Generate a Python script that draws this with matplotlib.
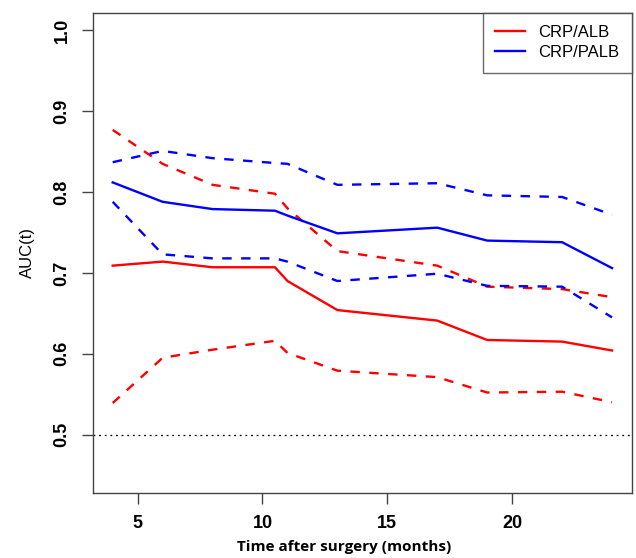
import numpy as np
import matplotlib
matplotlib.use("Agg")
import matplotlib.pyplot as plt

# time points (months) and AUC(t) with 95% CI
t = [4, 6, 8, 10.5, 11, 13, 17, 19, 22, 24]
alb = [0.709, 0.714, 0.707, 0.707, 0.690, 0.654, 0.641, 0.617, 0.615, 0.604]
alb_lo = [0.539, 0.595, 0.605, 0.616, 0.601, 0.579, 0.571, 0.552, 0.553, 0.540]
alb_hi = [0.877, 0.835, 0.809, 0.798, 0.780, 0.727, 0.709, 0.683, 0.680, 0.670]
palb = [0.812, 0.788, 0.779, 0.777, 0.771, 0.749, 0.756, 0.740, 0.738, 0.706]
palb_lo = [0.788, 0.723, 0.718, 0.718, 0.714, 0.690, 0.699, 0.684, 0.683, 0.645]
palb_hi = [0.837, 0.851, 0.842, 0.836, 0.835, 0.809, 0.811, 0.796, 0.794, 0.772]

plt.rcParams['font.family'] = ['Liberation Sans', 'DejaVu Sans']

fig = plt.figure(figsize=(6.36, 5.58), dpi=100)
ax = fig.add_axes([0.1458, 0.1170, 0.8479, 0.8602])

red = '#ff0000'
blue = '#0000ff'
lw = 1.7
ax.plot(t, alb, color=red, lw=lw, label='CRP/ALB')
ax.plot(t, alb_lo, color=red, lw=lw, dashes=(4, 4))
ax.plot(t, alb_hi, color=red, lw=lw, dashes=(4, 4))
ax.plot(t, palb, color=blue, lw=lw, label='CRP/PALB')
ax.plot(t, palb_lo, color=blue, lw=lw, dashes=(4, 4))
ax.plot(t, palb_hi, color=blue, lw=lw, dashes=(4, 4))
ax.axhline(0.5, color='black', lw=0.9, dashes=(1.5, 3))

# R style 4% padding
ax.set_xlim(4 - 0.8, 24 + 0.8)
ax.set_ylim(0.45 - 0.022, 1.0 + 0.022)
ax.set_xticks([5, 10, 15, 20])
ax.set_yticks([0.5, 0.6, 0.7, 0.8, 0.9, 1.0])
ax.set_yticklabels(['0.5', '0.6', '0.7', '0.8', '0.9', '1.0'], rotation=90, va='center')
for lab in ax.get_xticklabels() + ax.get_yticklabels():
    lab.set_fontweight('bold')
    lab.set_fontsize(13)
ax.tick_params(length=8, width=1, color='#444444', pad=8)

for s in ax.spines.values():
    s.set_color('#444444')
    s.set_linewidth(1)

ax.set_ylabel('AUC(t)', fontsize=12, labelpad=13)
fig.text(344.5 / 636, 1 - 547 / 558, 'Time after surgery (months)', ha='center', va='center',
         fontsize=11, fontweight='bold', family=['Open Sans', 'DejaVu Sans'])

leg = ax.legend(loc='upper right', fontsize=12, frameon=True, fancybox=False,
                borderaxespad=0, handlelength=1.8, handletextpad=0.8,
                borderpad=0.75, labelspacing=0.3)
leg.get_frame().set_edgecolor('#444444')
leg.get_frame().set_linewidth(1)

fig.savefig('out.png', dpi=100)
